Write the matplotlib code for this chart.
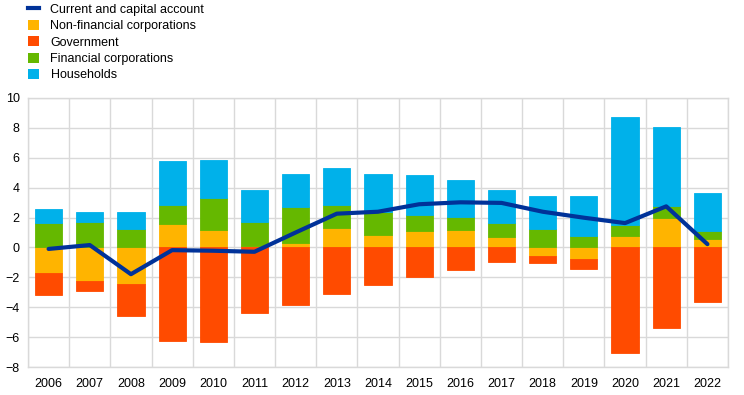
import matplotlib
matplotlib.use("Agg")
import matplotlib.pyplot as plt
import numpy as np
from matplotlib.patches import Patch
from matplotlib.lines import Line2D

plt.rcParams['font.family'] = ['Liberation Sans', 'DejaVu Sans']

years = ["2006", "2007", "2008", "2009", "2010", "2011", "2012", "2013", "2014",
         "2015", "2016", "2017", "2018", "2019", "2020", "2021", "2022"]
current_capital = [-0.10, 0.16, -1.79, -0.18, -0.22, -0.29, 1.00, 2.26, 2.39,
                   2.89, 3.02, 2.98, 2.39, 1.99, 1.63, 2.75, 0.22]
non_financial = [-1.70, -2.24, -2.42, 1.54, 1.14, 0.10, 0.29, 1.30, 0.81,
                 1.07, 1.14, 0.72, -0.56, -0.76, 0.76, 1.97, 0.56]
government = [-1.50, -0.65, -2.14, -6.29, -6.33, -4.38, -3.85, -3.11, -2.53,
              -2.01, -1.50, -0.96, -0.45, -0.65, -7.09, -5.37, -3.67]
financial = [1.61, 1.68, 1.21, 1.28, 2.19, 1.62, 2.42, 1.56, 1.56,
             1.10, 0.90, 0.89, 1.21, 0.78, 0.74, 0.78, 0.54]
households = [0.96, 0.67, 1.14, 2.97, 2.51, 2.15, 2.21, 2.44, 2.55,
              2.66, 2.46, 2.26, 2.26, 2.64, 7.22, 5.30, 2.52]

colors = {
    "nfc": "#FFB400",
    "gov": "#FF4B00",
    "fin": "#65B800",
    "hh": "#00B1EA",
    "line": "#003299",
}

fig = plt.figure(figsize=(7.44, 3.95), dpi=100)
ax = fig.add_axes([28/744, 1-367/395, 700/744, 269/395])

x = np.arange(len(years))
pos = np.zeros(len(years))
neg = np.zeros(len(years))
width = 0.66
for key, vals in [("nfc", non_financial), ("gov", government), ("fin", financial), ("hh", households)]:
    v = np.array(vals)
    bottoms = np.where(v >= 0, pos, neg)
    ax.bar(x, v, width=width, bottom=bottoms, color=colors[key],
           edgecolor=colors[key], linewidth=0.6, zorder=2)
    pos = pos + np.where(v >= 0, v, 0)
    neg = neg + np.where(v < 0, v, 0)

ax.plot(x, current_capital, color=colors["line"], linewidth=3, zorder=3,
        solid_capstyle='round', solid_joinstyle='round')

ax.set_xlim(-0.5, len(years) - 0.5)
ax.set_ylim(-8, 10)
ax.set_yticks(np.arange(-8, 11, 2))
ax.set_xticks(x)
ax.set_xticklabels(years)
ax.set_xticks(np.arange(-0.5, len(years), 1), minor=True)
ax.grid(False)
ax.yaxis.grid(True, color="#d9d9d9", linewidth=1, zorder=0)
ax.xaxis.grid(True, which="minor", color="#d9d9d9", linewidth=1, zorder=0)
ax.set_axisbelow(True)
for s in ax.spines.values():
    s.set_color("#d9d9d9")
    s.set_linewidth(1)
ax.tick_params(axis="both", which="both", length=0, labelsize=9, colors="black")
ax.tick_params(axis="x", pad=8)
ax.tick_params(axis="y", pad=6)

handles = [
    Line2D([0], [0], color=colors["line"], linewidth=3),
    Patch(facecolor=colors["nfc"]),
    Patch(facecolor=colors["gov"]),
    Patch(facecolor=colors["fin"]),
    Patch(facecolor=colors["hh"]),
]
labels = ["Current and capital account", "Non-financial corporations", "Government",
          "Financial corporations", "Households"]
fig.legend(handles, labels, loc="upper left", bbox_to_anchor=(28/744, 1 - 3/395),
           frameon=False, fontsize=9, handlelength=0.85, handleheight=0.9,
           handletextpad=0.95, labelspacing=0.32, borderpad=0.0, borderaxespad=0.0)

fig.savefig("out.png", dpi=100)
